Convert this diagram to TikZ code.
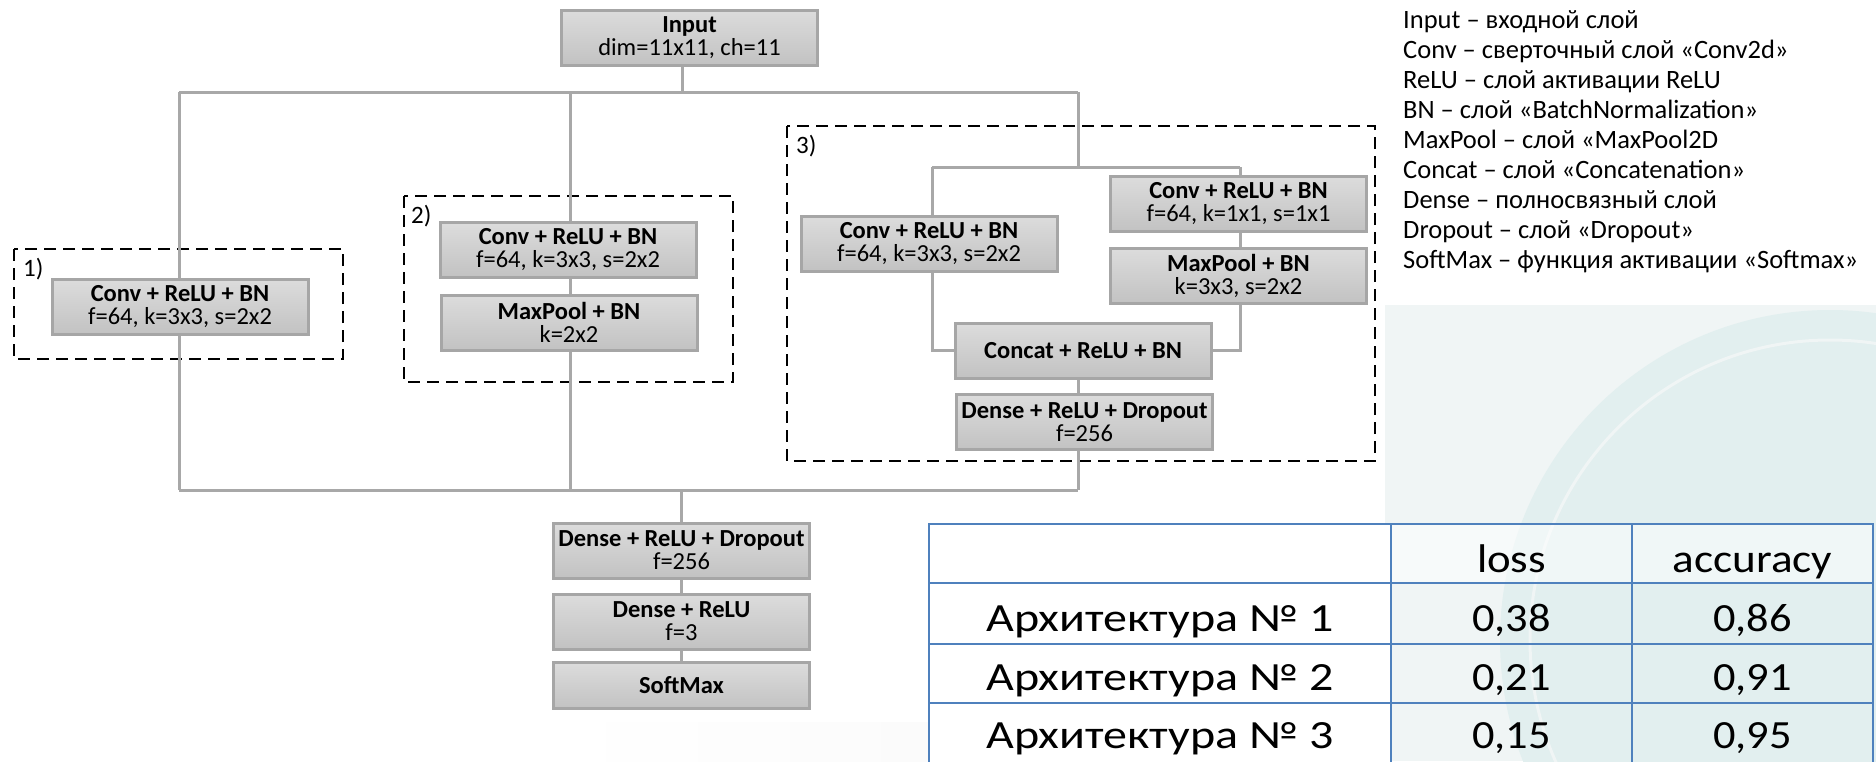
\documentclass[tikz,border=0pt]{standalone}
\usepackage{fontspec}
\setmainfont{Carlito}
\definecolor{boxtop}{RGB}{220,220,220}
\definecolor{boxbot}{RGB}{194,194,194}
\definecolor{boxline}{RGB}{166,166,166}
\definecolor{connc}{RGB}{168,168,168}
\definecolor{tblue}{RGB}{79,129,189}
\definecolor{wmA}{RGB}{240,245,245}
\definecolor{wmB}{RGB}{226,239,239}
\definecolor{wmC}{RGB}{246,246,246}
\newcommand\widetext[2]{\scalebox{#1}[1]{#2}}
\begin{document}
\begin{tikzpicture}[x=1pt,y=-1pt,
  layer/.style={draw=boxline, line width=3pt, top color=boxtop, bottom color=boxbot,
    minimum width=256pt, minimum height=55pt, inner sep=0pt, align=center,
    font=\fontsize{24.5}{23}\selectfont},
  conn/.style={draw=connc, line width=3pt},
  grp/.style={draw=black, line width=2.7pt, dash pattern=on 12pt off 7pt},
  grplabel/.style={anchor=base west, inner sep=0pt, font=\fontsize{25}{30}\selectfont},
  legend/.style={anchor=base west, inner sep=0pt, font=\fontsize{26.5}{30}\selectfont},
  tgrid/.style={draw=tblue, line width=2.5pt},
  tcell/.style={anchor=base, inner sep=0pt, font=\fontsize{40}{48}\selectfont},
]
\useasboundingbox (0,0) rectangle (1876,761);
% faint watermark
\begin{scope}
  \clip (1385,305) rectangle (1876,761);
  \fill[wmA] (1385,305) rectangle (1876,761);
  \fill[wmB] (1830,640) circle (330pt);
  \draw[wmA, line width=3pt] (1830,640) circle (300pt);
\end{scope}
\shade[left color=white, right color=wmC] (560,722) rectangle (1385,761);

% group frames
\draw[grp] (14,249) rectangle (343,359);
\draw[grp] (404,196) rectangle (733,382);
\draw[grp] (787,126) rectangle (1375,461);
\node[grplabel] (l1) at (23,276) {1)};
\node[grplabel] (l2) at (411,223) {2)};
\node[grplabel] (l3) at (796,153) {3)};

% junction coordinates
\coordinate (jin) at (682,92);
\coordinate (t1) at (179,92);
\coordinate (t2) at (570,92);
\coordinate (t3) at (1078,92);
\coordinate (i3) at (1078,167);
\coordinate (il) at (932,167);
\coordinate (ir) at (1240,167);
\coordinate (b1) at (179,490);
\coordinate (b2) at (570,490);
\coordinate (b3) at (1078,490);
\coordinate (bo) at (681,490);

% boxes
\node[layer] (input) at (689.5,37.5) {\textbf{Input}\\dim=11x11, ch=11};
\node[layer] (conv1) at (180,307) {\textbf{Conv + ReLU + BN}\\f=64, k=3x3, s=2x2};
\node[layer] (conv2) at (568,250) {\textbf{Conv + ReLU + BN}\\f=64, k=3x3, s=2x2};
\node[layer] (pool2) at (569,322.5) {\textbf{MaxPool + BN}\\k=2x2};
\node[layer] (conv3l) at (929,243.5) {\textbf{Conv + ReLU + BN}\\f=64, k=3x3, s=2x2};
\node[layer] (conv3r) at (1238.5,204) {\textbf{Conv + ReLU + BN}\\f=64, k=1x1, s=1x1};
\node[layer] (pool3) at (1238.5,276) {\textbf{MaxPool + BN}\\k=3x3, s=2x2};
\node[layer] (concat) at (1083,350.5) {\textbf{Concat + ReLU + BN}};
\node[layer] (dense3) at (1084.5,422) {\textbf{Dense + ReLU + Dropout}\\f=256};
\node[layer] (dense) at (681.5,550.5) {\textbf{Dense + ReLU + Dropout}\\f=256};
\node[layer] (dense2) at (681.5,621.5) {\textbf{Dense + ReLU}\\f=3};
\node[layer, minimum height=46pt] (softmax) at (681.5,685.5) {\textbf{SoftMax}};

% connectors
\draw[conn] (input.south -| jin) -- (jin);
\draw[conn] (t1) -- (t3);
\draw[conn] (t1) -- (conv1.north -| t1);
\draw[conn] (conv1.south -| t1) -- (b1);
\draw[conn] (t2) -- (conv2.north -| t2);
\draw[conn] (conv2.south -| t2) -- (pool2.north -| t2);
\draw[conn] (pool2.south -| t2) -- (b2);
\draw[conn] (t3) -- (i3);
\draw[conn] (il) -- (ir);
\draw[conn] (il) -- (conv3l.north -| il);
\draw[conn] (conv3l.south -| il) |- (concat.west);
\draw[conn] (ir) -- (conv3r.north -| ir);
\draw[conn] (conv3r.south -| ir) -- (pool3.north -| ir);
\draw[conn] (pool3.south -| ir) |- (concat.east);
\draw[conn] (concat.south -| b3) -- (dense3.north -| b3);
\draw[conn] (dense3.south -| b3) -- (b3);
\draw[conn] (b1) -- (b3);
\draw[conn] (bo) -- (dense.north -| bo);
\draw[conn] (dense.south -| bo) -- (dense2.north -| bo);
\draw[conn] (dense2.south -| bo) -- (softmax.north -| bo);

% legend
\node[legend] (g1) at (1403,28) {Input – входной слой};
\node[legend] (g2) at (1403,58) {Conv – сверточный слой «Conv2d»};
\node[legend] (g3) at (1403,88) {ReLU – слой активации ReLU};
\node[legend] (g4) at (1403,118) {BN – слой «BatchNormalization»};
\node[legend] (g5) at (1403,148) {MaxPool – слой «MaxPool2D};
\node[legend] (g6) at (1403,178) {Concat – слой «Concatenation»};
\node[legend] (g7) at (1403,208) {Dense – полносвязный слой};
\node[legend] (g8) at (1403,238) {Dropout – слой «Dropout»};
\node[legend] (g9) at (1403,268) {SoftMax – функция активации «Softmax»};

% table
\fill[white] (929,524) rectangle (1391,762);
\fill[white, opacity=0.5] (1391,524) rectangle (1873,583);
\draw[tgrid] (929,524) rectangle (1873,765);
\draw[tgrid] (929,583) -- (1873,583);
\draw[tgrid] (929,644) -- (1873,644);
\draw[tgrid] (929,703) -- (1873,703);
\draw[tgrid] (1391,524) -- (1391,765);
\draw[tgrid] (1632,524) -- (1632,765);
\node[tcell] (hloss) at (1511.5,572) {\widetext{1.12}{loss}};
\node[tcell] (hacc) at (1752.5,572) {\widetext{1.13}{accuracy}};
\node[tcell] (r1) at (1160,631) {\widetext{1.2}{Архитектура № 1}};
\node[tcell] (r2) at (1160,690) {\widetext{1.2}{Архитектура № 2}};
\node[tcell] (r3) at (1160,748) {\widetext{1.2}{Архитектура № 3}};
\node[tcell] (r1a) at (1511.5,631) {\widetext{1.11}{0,38}};
\node[tcell] (r2a) at (1511.5,690) {\widetext{1.11}{0,21}};
\node[tcell] (r3a) at (1511.5,748) {\widetext{1.11}{0,15}};
\node[tcell] (r1b) at (1752.5,631) {\widetext{1.11}{0,86}};
\node[tcell] (r2b) at (1752.5,690) {\widetext{1.11}{0,91}};
\node[tcell] (r3b) at (1752.5,748) {\widetext{1.11}{0,95}};
\end{tikzpicture}
\end{document}
